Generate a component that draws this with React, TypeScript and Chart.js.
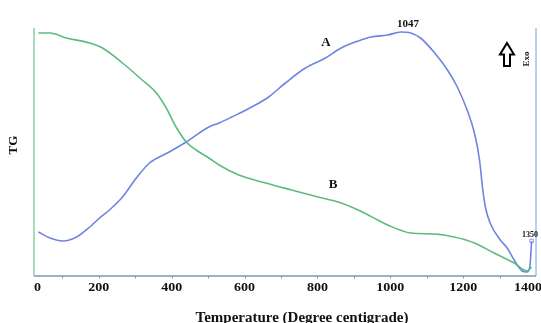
import React, { useEffect, useRef } from 'react';
import { Chart, registerables } from 'chart.js';

Chart.register(...registerables);

// Curve B (TG) – temperature (°C) and relative signal
const tempB = [34, 66, 111, 175, 210, 265, 319, 358, 385, 412, 440, 467, 502, 530, 584, 658, 729, 802, 857, 912, 966, 993, 1056, 1122, 1176, 1231, 1285, 1340, 1375, 1388];
const tgB = [243, 243, 238, 233, 228, 213, 196, 183, 168, 149, 134, 126, 118, 111, 101, 93, 86, 79, 74, 66, 56, 51, 43, 42, 39, 33, 23, 13, 5, 9];

// Curve A (DTA, Exo up)
const tempA = [34, 66, 101, 139, 175, 202, 229, 265, 303, 339, 393, 440, 502, 530, 565, 620, 666, 712, 767, 822, 865, 912, 947, 993, 1029, 1056, 1083, 1122, 1157, 1184, 1211, 1231, 1245, 1253, 1261, 1274, 1302, 1321, 1340, 1362, 1375, 1383, 1388];
const dtaA = [44, 38, 35, 39, 49, 58, 66, 79, 98, 113, 124, 134, 149, 153, 159, 169, 179, 193, 208, 218, 228, 235, 239, 241, 244, 243, 238, 223, 206, 189, 166, 143, 116, 89, 69, 53, 36, 28, 16, 5, 4, 9, 35];

const endMarkerX = [1388];
const endMarkerY = [35];

const xTickValues = [0, 200, 400, 600, 800, 1000, 1200, 1400];
const xTickLabels = ['0', '200', '400', '600', '800', '1000', '1200', '1400'];
const xMinorTicks = [100, 200, 300, 400, 500, 600, 700, 800, 900, 1000, 1100, 1200, 1300];

const X_MIN = 22;
const X_MAX = 1400;
const Y_MIN = 0;
const Y_MAX = 248;

const xTitle = 'Temperature (Degree centigrade)';
const yTitle = 'TG';
const exoLabel = 'Exo';
const labelA = 'A';
const labelB = 'B';
const peakLabel = '1047';
const endLabel = '1350';

const SERIF = '"Liberation Serif", "DejaVu Serif", serif';

const decorPlugin = {
  id: 'decor',
  beforeDatasetsDraw(chart: any) {
    const { ctx, chartArea } = chart;
    const { left, right, top, bottom } = chartArea;
    const xs = chart.scales.x;
    ctx.save();
    // left axis (green)
    ctx.strokeStyle = '#8fd3ae';
    ctx.lineWidth = 1.6;
    ctx.beginPath();
    ctx.moveTo(left, top);
    ctx.lineTo(left, bottom);
    ctx.stroke();
    // right axis (light blue)
    ctx.strokeStyle = '#a4c6f0';
    ctx.beginPath();
    ctx.moveTo(right, top);
    ctx.lineTo(right, bottom);
    ctx.stroke();
    // bottom axis
    ctx.strokeStyle = '#7d9bb0';
    ctx.lineWidth = 1.4;
    ctx.beginPath();
    ctx.moveTo(left, bottom);
    ctx.lineTo(right, bottom);
    ctx.stroke();
    // small tick marks
    ctx.lineWidth = 1;
    xMinorTicks.forEach((v) => {
      const px = Math.round(xs.getPixelForValue(v)) + 0.5;
      ctx.beginPath();
      ctx.moveTo(px, bottom);
      ctx.lineTo(px, bottom + 2.5);
      ctx.stroke();
    });
    ctx.restore();
  },
  afterDatasetsDraw(chart: any) {
    const { ctx, chartArea } = chart;
    const { left, right, bottom } = chartArea;
    const xs = chart.scales.x;
    ctx.save();
    ctx.fillStyle = '#111';
    ctx.textBaseline = 'alphabetic';

    // tick labels
    ctx.font = `bold 14px ${SERIF}`;
    ctx.textAlign = 'center';
    xTickValues.forEach((v, i) => {
      const t = xTickLabels[i];
      const w = ctx.measureText(t).width;
      let px = xs.getPixelForValue(Math.max(v, X_MIN));
      px = Math.max(px, left + w / 2);
      px = Math.min(px, right + 6 - w / 2);
      ctx.save();
      ctx.translate(px, bottom + 15);
      ctx.scale(1, 0.85);
      ctx.fillText(t, 0, 0);
      ctx.restore();
    });

    // x title
    ctx.font = `bold 15px ${SERIF}`;
    ctx.fillText(xTitle, 302, 322);

    // curve labels
    ctx.font = `bold 13px ${SERIF}`;
    ctx.fillText(labelA, 326, 46);
    ctx.fillText(labelB, 333, 188);

    ctx.font = `bold 11px ${SERIF}`;
    ctx.fillText(peakLabel, 408, 26.5);

    ctx.font = `bold 8px ${SERIF}`;
    ctx.fillText(endLabel, 530, 237);

    // y title (rotated)
    ctx.save();
    ctx.translate(17, 145);
    ctx.rotate(-Math.PI / 2);
    ctx.font = `bold 13px ${SERIF}`;
    ctx.textAlign = 'center';
    ctx.fillText(yTitle, 0, 0);
    ctx.restore();

    // Exo (rotated)
    ctx.save();
    ctx.translate(528.5, 59);
    ctx.rotate(-Math.PI / 2);
    ctx.font = `bold 9px ${SERIF}`;
    ctx.textAlign = 'center';
    ctx.fillText(exoLabel, 0, 0);
    ctx.restore();

    // hollow up arrow
    ctx.beginPath();
    ctx.moveTo(507, 43);
    ctx.lineTo(514, 54.5);
    ctx.lineTo(510, 54.5);
    ctx.lineTo(510, 66);
    ctx.lineTo(504, 66);
    ctx.lineTo(504, 54.5);
    ctx.lineTo(500, 54.5);
    ctx.closePath();
    ctx.fillStyle = '#fff';
    ctx.fill();
    ctx.strokeStyle = '#000';
    ctx.lineWidth = 2;
    ctx.lineJoin = 'miter';
    ctx.stroke();

    ctx.restore();
  },
};

export default function App() {
  const canvasRef = useRef<HTMLCanvasElement | null>(null);

  useEffect(() => {
    document.body.style.margin = '0';
    const canvas = canvasRef.current;
    if (!canvas) return;
    const chart = new Chart(canvas, {
      type: 'line',
      data: {
        datasets: [
          {
            label: 'B',
            data: tempB.map((x, i) => ({ x, y: tgB[i] })),
            borderColor: '#5cbb80',
            borderWidth: 1.6,
            pointRadius: 0,
            cubicInterpolationMode: 'monotone',
            fill: false,
            clip: false as any,
          },
          {
            label: 'A',
            data: tempA.map((x, i) => ({ x, y: dtaA[i] })),
            borderColor: '#6f84e2',
            borderWidth: 1.6,
            pointRadius: 0,
            cubicInterpolationMode: 'monotone',
            fill: false,
            clip: false as any,
          },
          {
            label: 'end',
            data: endMarkerX.map((x, i) => ({ x, y: endMarkerY[i] })),
            showLine: false,
            pointStyle: 'rect',
            pointRadius: 2.5,
            borderColor: '#9c9cf0',
            backgroundColor: '#ffffff',
            borderWidth: 1,
            clip: false as any,
          },
        ],
      },
      options: {
        responsive: false,
        animation: false,
        devicePixelRatio: 1,
        layout: { padding: { left: 34, right: 2, top: 28, bottom: 47 } },
        plugins: {
          legend: { display: false },
          tooltip: { enabled: false },
        },
        scales: {
          x: { type: 'linear', min: X_MIN, max: X_MAX, display: false },
          y: { type: 'linear', min: Y_MIN, max: Y_MAX, display: false },
        },
      },
      plugins: [decorPlugin],
    } as any);
    return () => chart.destroy();
  }, []);

  return (
    <div style={{ position: 'absolute', left: 0, top: 0, width: 541, height: 323, background: '#fff' }}>
      <canvas ref={canvasRef} width={541} height={323} style={{ display: 'block' }} />
    </div>
  );
}
